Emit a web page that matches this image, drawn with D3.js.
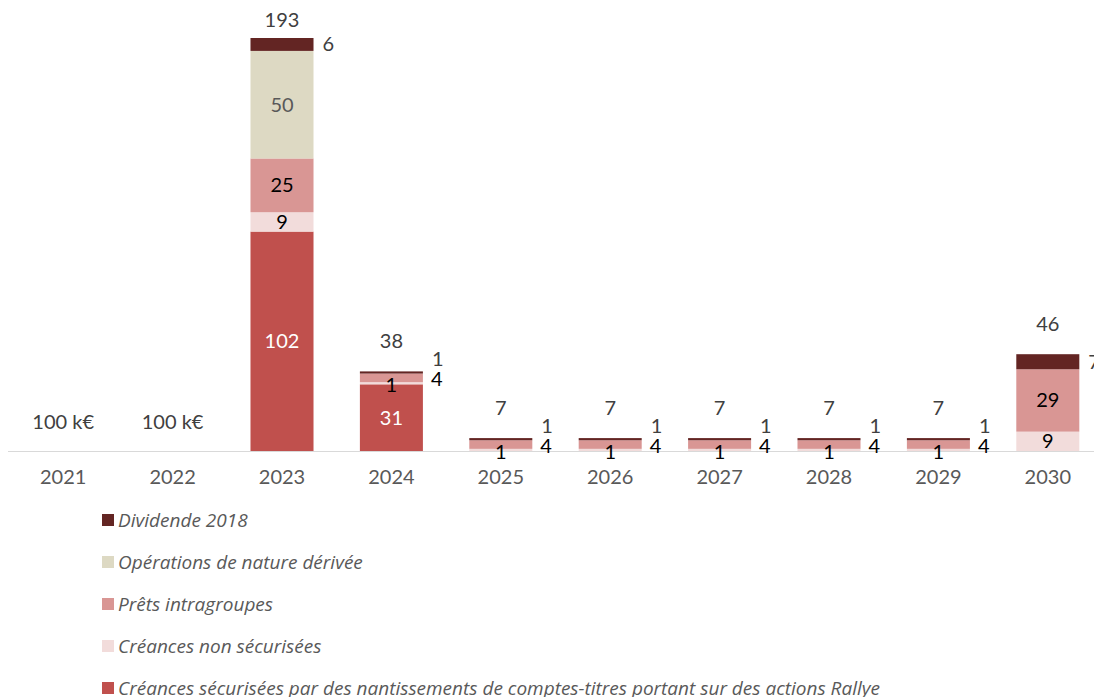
<!DOCTYPE html>
<html><head><meta charset="utf-8">
<script src="https://cdn.jsdelivr.net/npm/d3@7"></script>
<style>
html,body{margin:0;padding:0;background:#fff;}
svg{display:block;}
</style></head>
<body>
<svg id="chart" width="1094" height="697"></svg>
<script>
const years = ['2021','2022','2023','2024','2025','2026','2027','2028','2029','2030'];
const securisees    = [0,0,102,31,0,0,0,0,0,0];
const nonSecurisees = [0,0,9,1,1,1,1,1,1,9];
const prets         = [0,0,25,4,4,4,4,4,4,29];
const operations    = [0,0,50,0,0,0,0,0,0,0];
const dividende     = [0,0,6,1,1,1,1,1,1,7];
const totalLabels   = ['100 k€','100 k€','193','38','7','7','7','7','7','46'];

const seriesNames = [
  'Créances sécurisées par des nantissements de comptes-titres portant sur des actions Rallye',
  'Créances non sécurisées',
  'Prêts intragroupes',
  'Opérations de nature dérivée',
  'Dividende 2018'
];
const seriesValues = [securisees, nonSecurisees, prets, operations, dividende];
const colors = ['#C0504D','#F2DCDB','#D99694','#DDD9C3','#632523'];
const labelColors = ['#ffffff','#000000','#000000','#595959','#404040'];

const svg = d3.select('#chart');
const numFont = "Lato, 'DejaVu Sans', sans-serif";

const x = d3.scaleBand().domain(years).range([8.5, 1102.5]).paddingInner(0.424).paddingOuter(0.212);
const y = d3.scaleLinear().domain([0, 192]).range([451, 38]);

const table = years.map((yr, i) => {
  const o = {year: yr};
  seriesNames.forEach((s, k) => o[s] = seriesValues[k][i]);
  return o;
});
const stacked = d3.stack().keys(seriesNames)(table);

// axis
const xAxis = svg.append('g').attr('transform','translate(0,451)').call(d3.axisBottom(x).tickSize(0).tickPadding(19));
xAxis.select('.domain').attr('stroke','#d9d9d9').attr('stroke-width',1.2).attr('d','M8,0.5H1094');
xAxis.selectAll('text').attr('font-family',numFont).attr('font-size',20).attr('fill','#595959');

// bars
stacked.forEach((layer, k) => {
  svg.append('g').selectAll('rect').data(layer).join('rect')
    .attr('x', d => x(d.data.year))
    .attr('width', x.bandwidth())
    .attr('y', d => y(d[1]))
    .attr('height', d => Math.max(0, y(d[0]) - y(d[1])))
    .attr('fill', colors[k]);
});

// segment labels
const lbl = svg.append('g').attr('font-family',numFont).attr('font-size',20);
const pretsLabelY = {};
stacked.forEach((layer, k) => {
  layer.forEach((d, i) => {
    const v = seriesValues[k][i];
    if (!v) return;
    const h = y(d[0]) - y(d[1]);
    const cx = x(d.data.year) + x.bandwidth()/2;
    const cy = (y(d[0]) + y(d[1]))/2;
    let tx = cx, ty = cy, anchor = 'middle', fill = labelColors[k];
    if (k === 4) { // dividende: outside right
      tx = x(d.data.year) + x.bandwidth() + 9;
      anchor = 'start';
      ty = (h < 10 && pretsLabelY[i] !== undefined) ? pretsLabelY[i] - 20 : cy;
      fill = '#404040';
    } else if (k === 2 && h < 12) { // small prets: outside right
      tx = x(d.data.year) + x.bandwidth() + 8;
      anchor = 'start';
      ty = cy + 1;
      pretsLabelY[i] = ty;
    } else if (k === 1 && h < 6) {
      ty = cy + 2;
    }
    lbl.append('text').attr('x', tx).attr('y', ty).attr('dy','0.35em')
      .attr('text-anchor', anchor).attr('fill', fill).text(v);
  });
});

// totals
years.forEach((yr, i) => {
  const sum = seriesValues.reduce((a, s) => a + s[i], 0);
  const ty = sum === 0 ? 422 : Math.max(20, y(sum) - 30);
  lbl.append('text').attr('x', x(yr) + x.bandwidth()/2).attr('y', ty).attr('dy','0.35em')
    .attr('text-anchor','middle').attr('fill','#404040').text(totalLabels[i]);
});

// legend
const legendOrder = [4,3,2,1,0];
const leg = svg.append('g');
legendOrder.forEach((k, j) => {
  const gy = 520 + j*42;
  leg.append('rect').attr('x',102).attr('y',gy-6).attr('width',12).attr('height',12).attr('fill',colors[k]);
  leg.append('text').attr('x',118).attr('y',gy).attr('dy','0.35em')
    .attr('font-family',"'Open Sans', sans-serif").attr('font-style','italic').attr('font-size',19)
    .attr('fill','#595959').text(seriesNames[k]);
});
</script>
</body></html>
